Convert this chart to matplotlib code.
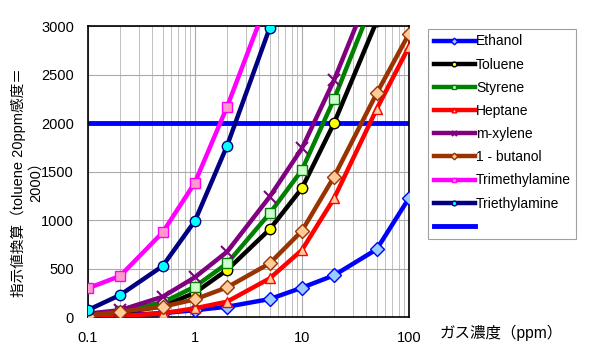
import numpy as np
import matplotlib
matplotlib.use('Agg')
import matplotlib.pyplot as plt

plt.rcParams['font.family'] = ['Liberation Sans', 'Noto Sans CJK JP', 'DejaVu Sans']

# gas concentration (ppm)
conc = [0.1, 0.2, 0.5, 1, 2, 5, 10, 20, 50, 100]

ethanol = [10, 20, 40, 70, 106, 185, 302, 430, 698, 1224]
toluene = [20, 45, 110, 250, 485, 904, 1327, 2000, 3050, 4200]
styrene = [30, 60, 150, 313, 553, 1068, 1515, 2247, 3349, 4500]
heptane = [5, 10, 38, 90, 158, 398, 690, 1224, 2144, 2786]
mxylene = [35, 70, 209, 410, 673, 1240, 1738, 2443, 3529, 4700]
butanol = [15, 55, 106, 182, 306, 553, 887, 1447, 2306, 2918]
trimethylamine = [296, 423, 873, 1385, 2168, 3320]
triethylamine = [72, 227, 526, 990, 1766, 2980]
ref_level = [2000] * len(conc)

series = [
    ('Ethanol', conc, ethanol, '#0000ff', 'D', '#99ccff', '#0000ff'),
    ('Toluene', conc, toluene, '#000000', 'o', '#ffff00', '#000000'),
    ('Styrene', conc, styrene, '#008000', 's', '#ccffcc', '#008000'),
    ('Heptane', conc, heptane, '#ff0000', '^', '#ffcc99', '#ff0000'),
    ('m-xylene', conc, mxylene, '#800080', 'x', '#800080', '#800080'),
    ('1 - butanol', conc, butanol, '#993300', 'D', '#ffcc99', '#993300'),
    ('Trimethylamine', conc[:6], trimethylamine, '#ff00ff', 's', '#ff99cc', '#ff00ff'),
    ('Triethylamine', conc[:6], triethylamine, '#000080', 'o', '#00ffff', '#000080'),
]

fig = plt.figure(figsize=(5.9, 3.57), dpi=100)
ax = fig.add_axes([0.149, 0.112, 0.544, 0.815])

for name, xs, ys, col, mk, fc, ec in series:
    ax.plot(xs, ys, color=col, lw=3.2, marker=mk, ms=7.5 if mk != 'x' else 8,
            mfc=fc, mec=ec, mew=1.0 if mk != 'x' else 1.5, label=name, zorder=3)
ax.plot(conc, ref_level, color='#0000ff', lw=3.5, label=' ', zorder=2.5)

ax.set_xscale('log')
ax.set_xlim(0.1, 100)
ax.set_ylim(0, 3000)
ax.set_yticks(np.arange(0, 3001, 500))
ax.set_xticks([0.1, 1, 10, 100])
ax.set_xticklabels(['0.1', '1', '10', '100'])
ax.tick_params(axis='both', which='both', length=0, labelsize=10.5, pad=10)
ax.grid(True, which='major', color='#aaaaaa', lw=0.8)
ax.grid(True, which='minor', axis='x', color='#c0c0c0', lw=0.7)
for s in ax.spines.values():
    s.set_linewidth(1.2)

fig.text(0.031, 0.49, '指示値換算（toluene 20ppm感度＝', rotation=90,
         ha='center', va='center', fontsize=10.5)
fig.text(0.06, 0.5, '2000）', rotation=90,
         ha='center', va='center', fontsize=10.5)
fig.text(0.745, 0.068, 'ガス濃度（ppm）', ha='left', va='center',
         fontsize=11.2)

leg = fig.legend(loc='upper left', bbox_to_anchor=(0.7254, 0.919),
                 borderaxespad=0, fontsize=10, markerscale=0.45,
                 handlelength=3.0, handletextpad=0.05, labelspacing=0.66,
                 borderpad=0.4, fancybox=False, frameon=True,
                 edgecolor='#888888')
leg.get_frame().set_linewidth(0.8)

plt.savefig('out.png', dpi=100)
